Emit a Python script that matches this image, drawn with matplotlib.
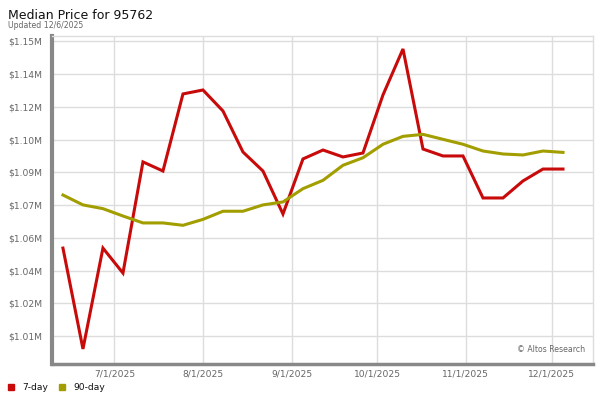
import matplotlib
matplotlib.use("Agg")
import matplotlib.pyplot as plt
import matplotlib.dates as mdates
from matplotlib.patches import Rectangle
import pandas as pd

dates = ["2025-06-13", "2025-06-20", "2025-06-27", "2025-07-04", "2025-07-11",
         "2025-07-18", "2025-07-25", "2025-08-01", "2025-08-08", "2025-08-15",
         "2025-08-22", "2025-08-29", "2025-09-05", "2025-09-12", "2025-09-19",
         "2025-09-26", "2025-10-03", "2025-10-10", "2025-10-17", "2025-10-24",
         "2025-10-31", "2025-11-07", "2025-11-14", "2025-11-21", "2025-11-28",
         "2025-12-05"]

price_7day = [1050000, 999100, 1050000, 1037400, 1093500, 1088900, 1127800,
              1129800, 1119200, 1098500, 1088900, 1067200, 1095000, 1099500,
              1096000, 1098000, 1127300, 1150500, 1100000, 1096500, 1096500,
              1075300, 1075300, 1083900, 1089900, 1089900]

price_90day = [1076800, 1071800, 1069900, 1066200, 1062700, 1062700, 1061500,
               1064500, 1068600, 1068600, 1071800, 1073300, 1080000, 1084200,
               1091800, 1095600, 1102400, 1106400, 1107400, 1104900, 1102400,
               1099000, 1097500, 1097000, 1099000, 1098300]

y_ticks = [1005500, 1022050, 1038600, 1055150, 1071700, 1088250, 1104800,
           1121350, 1137900, 1154450]
y_tick_labels = ["$1.01M", "$1.02M", "$1.04M", "$1.06M", "$1.07M", "$1.09M",
                 "$1.10M", "$1.12M", "$1.14M", "$1.15M"]

x_ticks = ["2025-07-01", "2025-08-01", "2025-09-01", "2025-10-01",
           "2025-11-01", "2025-12-01"]
x_tick_labels = ["7/1/2025", "8/1/2025", "9/1/2025", "10/1/2025",
                 "11/1/2025", "12/1/2025"]

series_names = ["7-day", "90-day"]
colors = ["#c80a0a", "#a39e00"]

plt.rcParams['font.family'] = ['DejaVu Sans']

fig = plt.figure(figsize=(6, 4), dpi=100)
ax = fig.add_axes([52/600, 36/400, 541/600, 328.3/400])

d = pd.to_datetime(dates)
ax.plot(d, price_7day, color=colors[0], lw=2.2, zorder=3, solid_joinstyle='miter')
ax.plot(d, price_90day, color=colors[1], lw=2.2, zorder=3)

ax.set_xlim(pd.Timestamp("2025-06-09 04:00"), pd.Timestamp("2025-12-15 12:00"))
ax.set_ylim(991500, 1157200)

ax.set_yticks(y_ticks)
ax.set_yticklabels(y_tick_labels)
ax.set_xticks(pd.to_datetime(x_ticks))
ax.set_xticklabels(x_tick_labels)

ax.tick_params(axis='both', length=0, labelsize=6.6, labelcolor='#666666')
ax.tick_params(axis='y', pad=7)
ax.tick_params(axis='x', pad=4)

ax.grid(True, color='#dddddd', lw=1)
ax.set_axisbelow(True)

for s in ['top', 'right']:
    ax.spines[s].set_color('#dddddd')
    ax.spines[s].set_linewidth(1)
ax.spines['left'].set_color('#888888')
ax.spines['left'].set_linewidth(3)
ax.spines['bottom'].set_color('#888888')
ax.spines['bottom'].set_linewidth(2.5)

fig.text(8/600, 1 - 19/400, "Median Price for 95762", fontsize=9,
         color='#111111', ha='left', va='baseline')
fig.text(8/600, 1 - 28/400, "Updated 12/6/2025", fontsize=5.6,
         color='#666666', ha='left', va='baseline')

ax.text(0.985, 0.03, "\u00a9 Altos Research", transform=ax.transAxes,
        fontsize=5.6, color='#666666', ha='right', va='bottom')

# legend
lx = [8, 59]
for i, name in enumerate(series_names):
    fig.patches.append(Rectangle((lx[i]/600, 1 - 390/400), 6/600, 6/400,
                                 transform=fig.transFigure, color=colors[i]))
    fig.text((lx[i] + 14)/600, 1 - 387/400, name, fontsize=6.6,
             color='#111111', ha='left', va='center')

fig.savefig("out.png", dpi=100)
